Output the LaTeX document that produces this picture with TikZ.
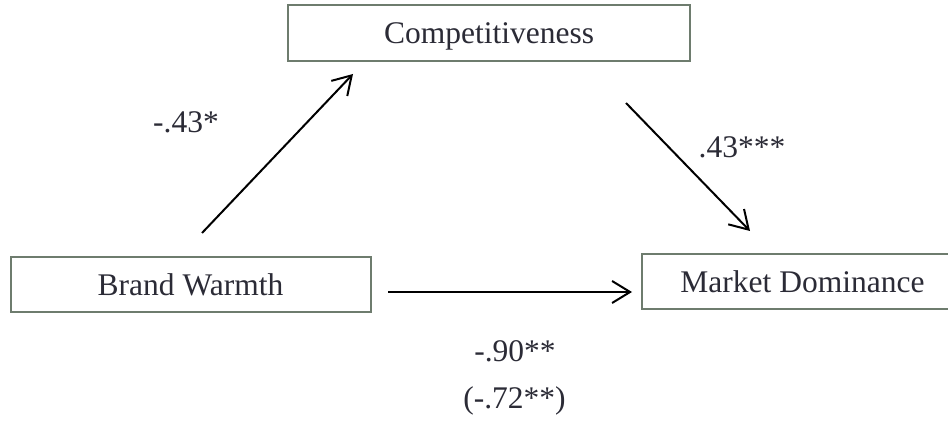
\documentclass[tikz,border=0pt]{standalone}
\usepackage{fontspec}
\setmainfont{Liberation Serif}
\usetikzlibrary{arrows.meta}
\definecolor{txt}{HTML}{2B2B36}
\definecolor{bord}{HTML}{6E7C6E}
\begin{document}
\begin{tikzpicture}[x=1pt,y=-1pt,
  box/.style={draw=bord,line width=2pt,inner sep=0pt,text=txt,
    font=\fontsize{31.5}{38}\selectfont,text height=21pt,text depth=0pt},
  lbl/.style={text=txt,font=\fontsize{31.5}{38}\selectfont,inner sep=0pt,anchor=base},
  arr/.style={-{Straight Barb[length=18pt,width=22pt]},line width=2pt,black}]
\useasboundingbox (0,0) rectangle (948,430);
\clip (0,0) rectangle (948,430);
\fill[white] (0,0) rectangle (948,430);
\node[box,minimum width=402pt,minimum height=56pt,text depth=-5pt] (comp) at (489,33.5) {Competitiveness};
\node[box,minimum width=360pt,minimum height=55pt] (brand) at (190.5,285) {Brand Warmth};
\node[box,minimum width=322pt,minimum height=55pt] (market) at (802.5,282) {Market Dominance};
\coordinate (a1s) at (202,233);
\coordinate (a1e) at (353,74);
\coordinate (a2s) at (626,103);
\coordinate (a2e) at (750,231);
\coordinate (a3s) at (388,292);
\coordinate (a3e) at (632,292);
\draw[arr] (a1s) -- (a1e);
\draw[arr] (a2s) -- (a2e);
\draw[arr] (a3s) -- (a3e);
\node[lbl] (l1) at (186,133) {-.43*};
\node[lbl] (l2) at (742,158) {.43***};
\node[lbl] (l3) at (515,362) {-.90**};
\node[lbl] (l4) at (514.5,408) {(-.72**)};
\end{tikzpicture}
\end{document}
